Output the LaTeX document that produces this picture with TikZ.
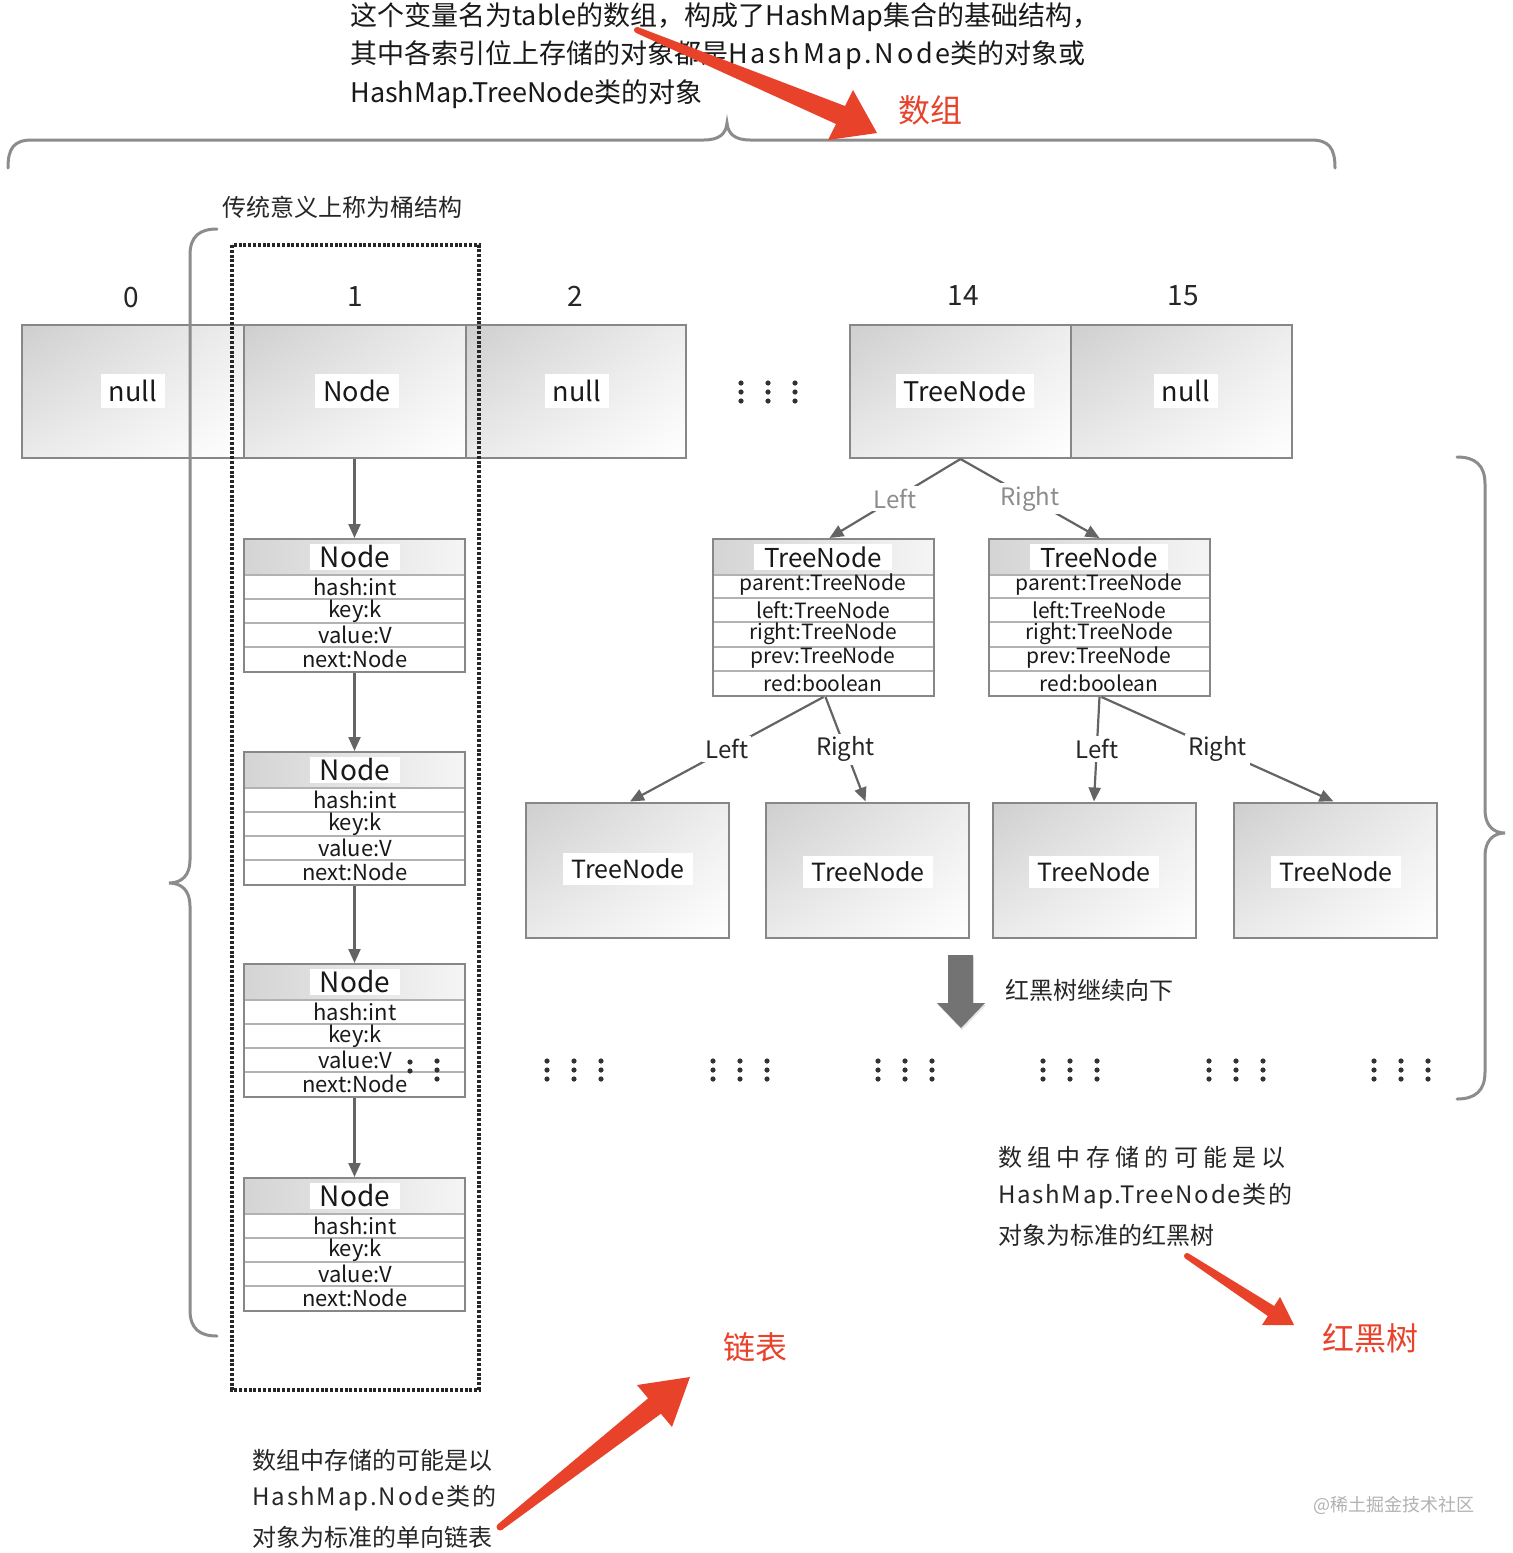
\documentclass[tikz,border=0pt]{standalone}
\usepackage{fontspec}
\setmainfont{Noto Sans CJK SC}
\usetikzlibrary{arrows.meta,calc,shadows,shadings}
\definecolor{redc}{RGB}{233,66,42}
\definecolor{boxline}{RGB}{135,135,135}
\definecolor{linec}{RGB}{100,100,100}
\definecolor{bracec}{RGB}{140,140,140}
\definecolor{hdrA}{RGB}{212,212,212}
\definecolor{dotc}{RGB}{50,50,50}
\newcommand{\vdotsat}[2]{\foreach \dy in {-9,0,9}{\fill[dotc] (#1,#2+\dy) circle (1.3pt);}}
\begin{document}
\begin{tikzpicture}[x=0.5pt,y=-0.5pt,
  toptext/.style={anchor=west, inner sep=0pt, font=\fontsize{13.5pt}{16pt}\selectfont, text=black!90},
  cntext/.style={anchor=west, inner sep=0pt, font=\fontsize{12pt}{14pt}\selectfont, text=black!85},
  redlbl/.style={inner sep=0pt, font=\fontsize{16pt}{18pt}\selectfont, text=redc},
  idx/.style={inner sep=0pt, font=\fontsize{14pt}{16pt}\selectfont, text=black!85},
  brace/.style={draw=bracec, line width=1.5pt, line cap=round},
  arrbox/.style={draw=boxline, line width=1pt, inner sep=0pt, minimum height=66.5pt,
    path picture={\shade[upper left=black!19, upper right=black!7, lower left=black!8, lower right=white]
      (path picture bounding box.north west) rectangle (path picture bounding box.south east);}},
  celltext/.style={fill=white, inner xsep=4pt, inner ysep=3pt, font=\fontsize{13.5pt}{16pt}\selectfont, text=black!90},
  hdrtext/.style={fill=white, inner xsep=5pt, inner ysep=1pt, font=\fontsize{14pt}{16pt}\selectfont, text=black!90},
  rowtext/.style={inner sep=0pt, font=\fontsize{11pt}{12pt}\selectfont, text=black!90},
  rowline/.style={draw=black!30, line width=0.9pt},
  framebox/.style={draw=boxline, line width=1pt, inner sep=0pt},
  conn/.style={draw=linec, line width=1.1pt, -{Triangle[length=7pt,width=6pt]}},
  lblA/.style={fill=white, inner sep=1.5pt, font=\fontsize{12pt}{14pt}\selectfont, text=black!45},
  lblB/.style={fill=white, inner sep=1.5pt, font=\fontsize{12pt}{14pt}\selectfont, text=black!85},
  bucket/.style={draw=black!85, line width=1.6pt, dash pattern=on 1.5pt off 0.9pt}
]
\useasboundingbox (0,0) rectangle (1512,1553);
\fill[white] (0,0) rectangle (1512,1553);

% ---------- top text ----------
\node[toptext] (t1) at (350,17) {这个变量名为table的数组，构成了HashMap集合的基础结构，};
\node[toptext] (t2) at (350,55) {其中各索引位上存储的对象都是{\addfontfeatures{LetterSpace=10}HashMap.Node}类的对象或};
\node[toptext] (t3) at (350,94) {HashMap.TreeNode类的对象};

% ---------- top brace ----------
\draw[brace] (8,168) .. controls (8,148) and (14,140) .. (32,140) -- (704,140)
  .. controls (719,140) and (726,134) .. (727,123)
  .. controls (728,134) and (735,140) .. (750,140) -- (1311,140)
  .. controls (1329,140) and (1335,148) .. (1335,168);
\node[redlbl] (shuzu) at (930,110) {数组};

% ---------- bucket label ----------
\node[cntext] (tong) at (222,207) {传统意义上称为桶结构};

% ---------- indices ----------
\node[idx] (i0) at (131,298) {0};
\node[idx] (i1) at (355,297) {1};
\node[idx] (i2) at (575,296) {2};
\node[idx] (i14) at (963,296) {14};
\node[idx] (i15) at (1183,296) {15};

% ---------- array ----------
\node[arrbox, minimum width=111pt] (a0) at (133,391.5) {};
\node[arrbox, minimum width=111pt] (a1) at (355,391.5) {};
\node[arrbox, minimum width=110pt] (a2) at (576,391.5) {};
\node[arrbox, minimum width=110.5pt] (a14) at (960.5,391.5) {};
\node[arrbox, minimum width=110.5pt] (a15) at (1181.5,391.5) {};
\node[celltext] (a0t) at (133,391) {null};
\node[celltext] (a1t) at (357,391) {Node};
\node[celltext] (a2t) at (577,391) {null};
\node[celltext] (a14t) at (965,391) {TreeNode};
\node[celltext] (a15t) at (1186,391) {null};
\vdotsat{741}{392}
\vdotsat{768}{392}
\vdotsat{795}{392}

% ---------- linked list ----------
\foreach \n/\t in {L1/538,L2/751,L3/963,L4/1177}{
  \fill[white, drop shadow={shadow xshift=1pt, shadow yshift=-1pt, opacity=0.25}] (243,\t) rectangle (464,\t+133);
  \shade[left color=hdrA, right color=black!4] (243,\t) rectangle (464,\t+37);
  \draw[rowline] (243,\t+37) -- (464,\t+37);
  \draw[rowline] (243,\t+61) -- (464,\t+61);
  \draw[rowline] (243,\t+85) -- (464,\t+85);
  \draw[rowline] (243,\t+109) -- (464,\t+109);
  \node[hdrtext] at (355,\t+19) {Node};
  \node[rowtext] at (355,\t+49) {hash:int};
  \node[rowtext] at (355,\t+73) {key:k};
  \node[rowtext] at (355,\t+97) {value:V};
  \node[rowtext] at (355,\t+121) {next:Node};
  \node[framebox, minimum width=110.5pt, minimum height=66.5pt, anchor=north west] (\n) at (243,\t) {};
}
\fill[dotc] (410,1062) circle (1.3pt);
\fill[dotc] (410,1071) circle (1.3pt);
\vdotsat{437}{1070}

\draw[conn] (L1.north |- a1.south) -- (L1.north);
\draw[conn] (L1.south) -- (L2.north);
\draw[conn] (L2.south) -- (L3.north);
\draw[conn] (L3.south) -- (L4.north);

% ---------- tree level 1 ----------
\foreach \n/\xl in {T1/712,T2/988}{
  \fill[white, drop shadow={shadow xshift=1pt, shadow yshift=-1pt, opacity=0.25}] (\xl,538) rectangle (\xl+221,695);
  \shade[left color=hdrA, right color=black!4] (\xl,538) rectangle (\xl+221,575);
  \draw[rowline] (\xl,575) -- (\xl+221,575);
  \draw[rowline] (\xl,598) -- (\xl+221,598);
  \draw[rowline] (\xl,622) -- (\xl+221,622);
  \draw[rowline] (\xl,647) -- (\xl+221,647);
  \draw[rowline] (\xl,671) -- (\xl+221,671);
  \node[hdrtext, font=\fontsize{13pt}{15pt}\selectfont] at (\xl+111,557) {TreeNode};
  \node[rowtext, font=\fontsize{10.5pt}{12pt}\selectfont] at (\xl+111,585) {parent:TreeNode};
  \node[rowtext, font=\fontsize{10.5pt}{12pt}\selectfont] at (\xl+111,610) {left:TreeNode};
  \node[rowtext, font=\fontsize{10.5pt}{12pt}\selectfont] at (\xl+111,634) {right:TreeNode};
  \node[rowtext, font=\fontsize{10.5pt}{12pt}\selectfont] at (\xl+111,658) {prev:TreeNode};
  \node[rowtext, font=\fontsize{10.5pt}{12pt}\selectfont] at (\xl+111,683) {red:boolean};
  \node[framebox, minimum width=110.5pt, minimum height=78.5pt, anchor=north west] (\n) at (\xl,538) {};
}
\draw[conn] (a14.south) -- node[lblA] {Left} ([xshift=3pt]T1.north);
\draw[conn] (a14.south) -- node[lblA] {Right} (T2.north);

% ---------- tree level 2 ----------
\node[arrbox, minimum width=101.5pt, minimum height=67.5pt] (B1) at (627,870) {};
\node[arrbox, minimum width=101.5pt, minimum height=67.5pt] (B2) at (867.5,870) {};
\node[arrbox, minimum width=101.5pt, minimum height=67.5pt] (B3) at (1094,870) {};
\node[arrbox, minimum width=101.5pt, minimum height=67.5pt] (B4) at (1335.5,870) {};
\node[celltext, font=\fontsize{12.5pt}{15pt}\selectfont] (B1t) at (628,869) {TreeNode};
\node[celltext, font=\fontsize{12.5pt}{15pt}\selectfont] (B2t) at (868,872) {TreeNode};
\node[celltext, font=\fontsize{12.5pt}{15pt}\selectfont] (B3t) at (1094,872) {TreeNode};
\node[celltext, font=\fontsize{12.5pt}{15pt}\selectfont] (B4t) at (1336,872) {TreeNode};
\draw[conn] (T1.south) -- node[lblB] {Left} ([xshift=1.5pt]B1.north);
\draw[conn] ([xshift=1pt]T1.south) -- node[lblB] {Right} ([xshift=-1pt]B2.north);
\draw[conn] (T2.south) -- node[lblB] {Left} (B3.north);
\draw[conn] ([xshift=1pt]T2.south) -- node[lblB] {Right} ([xshift=-1pt]B4.north);

% ---------- continue down ----------
\fill[black!55, drop shadow={shadow xshift=0.5pt, shadow yshift=-1pt, opacity=0.2}] (948,955) -- (973,955) -- (973,1003) -- (985,1003) -- (961,1028) -- (937,1003) -- (948,1003) -- cycle;
\node[cntext] (cont) at (1005,990) {红黑树继续向下};
\foreach \cx in {574,740,905,1070,1236,1401}{
  \vdotsat{\cx-27}{1070}
  \vdotsat{\cx}{1070}
  \vdotsat{\cx+27}{1070}
}

% ---------- bucket frame and braces ----------
\draw[bucket] (232,245) rectangle (479,1390);
\draw[brace] (217,229) .. controls (200,229) and (190,236) .. (190,255) -- (190,860)
  .. controls (190,875) and (182,883) .. (169,883)
  .. controls (182,883) and (190,891) .. (190,906) -- (190,1310)
  .. controls (190,1329) and (200,1336) .. (217,1336);
\draw[brace] (1457,457) .. controls (1475,457) and (1485,465) .. (1485,484) -- (1485,810)
  .. controls (1485,825) and (1493,833) .. (1505,833)
  .. controls (1493,833) and (1485,841) .. (1485,856) -- (1485,1072)
  .. controls (1485,1091) and (1475,1099) .. (1457,1099);

% ---------- bottom texts ----------
\node[cntext] (r1) at (998,1157) {\addfontfeatures{LetterSpace=22}数组中存储的可能是以};
\node[cntext] (r2) at (998,1196) {\addfontfeatures{LetterSpace=7}HashMap.TreeNode类的};
\node[cntext] (r3) at (998,1235) {对象为标准的红黑树};
\node[cntext] (l1) at (252,1460) {数组中存储的可能是以};
\node[cntext] (l2) at (252,1498) {\addfontfeatures{LetterSpace=8}HashMap.Node类的};
\node[cntext] (l3) at (252,1537) {对象为标准的单向链表};

% ---------- red arrows ----------
\fill[redc] (638.2,27.2) -- (845,106) -- (853,90) -- (877,133) -- (828,140) -- (836,124) -- (635.8,32.8) -- cycle;
\fill[redc] (637,30) circle (1.5pt);
\fill[redc] (497.8,1524.3) -- (648.1,1398.3) -- (637,1385) -- (690,1377) -- (672,1427) -- (660.9,1413.7) -- (502.2,1529.7) -- cycle;
\fill[redc] (500,1527) circle (1.75pt);
\fill[redc] (1188.6,1253.5) -- (1274.2,1306) -- (1280,1297) -- (1294,1325) -- (1262,1325) -- (1267.8,1316) -- (1185.4,1258.5) -- cycle;
\fill[redc] (1187,1256) circle (1.5pt);
\node[redlbl] (lianbiao) at (755,1347) {链表};
\node[redlbl] (hhs) at (1370,1338) {红黑树};

% ---------- watermark ----------
\node[inner sep=0pt, anchor=east, font=\fontsize{9pt}{11pt}\selectfont, text=black!30] (wm) at (1475,1505) {@稀土掘金技术社区};
\end{tikzpicture}
\end{document}
